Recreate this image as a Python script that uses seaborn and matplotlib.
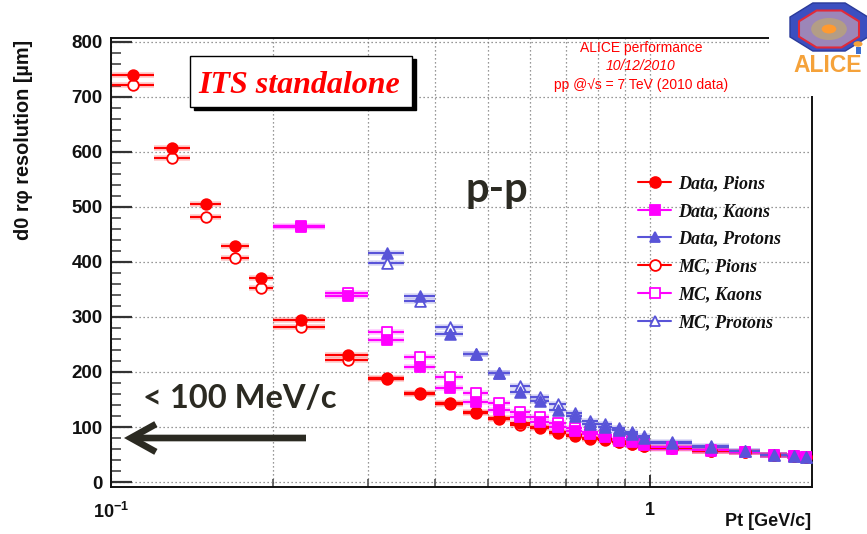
import numpy as np
import pandas as pd
import matplotlib
matplotlib.use("Agg")
import matplotlib.pyplot as plt
import seaborn as sns
from matplotlib.lines import Line2D
from matplotlib.patches import Rectangle, RegularPolygon, Circle
from matplotlib.ticker import FixedLocator, MultipleLocator, NullFormatter, LogLocator
from matplotlib.font_manager import FontProperties

# ---------------- data ----------------
pt_pions = [0.11, 0.13, 0.15, 0.17, 0.19, 0.225, 0.275, 0.325, 0.375, 0.425, 0.475,
            0.525, 0.575, 0.625, 0.675, 0.725, 0.775, 0.825, 0.875, 0.925, 0.975,
            1.1, 1.3, 1.5, 1.7, 1.85, 1.95]
ptw_pions = [0.01, 0.01, 0.01, 0.01, 0.01, 0.025, 0.025, 0.025, 0.025, 0.025, 0.025,
             0.025, 0.025, 0.025, 0.025, 0.025, 0.025, 0.025, 0.025, 0.025, 0.025,
             0.1, 0.1, 0.1, 0.1, 0.05, 0.05]
data_pions = [740, 607, 505, 429, 371, 295, 231, 189, 162, 144, 128, 116, 107, 100, 91,
              86, 80, 78, 73, 70, 66, 62, 56, 54, 49, 47, 45]
mc_pions = [722, 589, 482, 407, 353, 282, 222, 187, 160, 142, 126, 114, 104, 98, 90,
            84, 79, 76, 72, 69, 65, 62, 57, 54, 49, 47, 45]

pt_kaons = [0.225, 0.275, 0.325, 0.375, 0.425, 0.475, 0.525, 0.575, 0.625, 0.675, 0.725,
            0.775, 0.825, 0.875, 0.925, 0.975, 1.1, 1.3, 1.5, 1.7, 1.85, 1.95]
ptw_kaons = [0.025, 0.025, 0.025, 0.025, 0.025, 0.025, 0.025, 0.025, 0.025, 0.025, 0.025,
             0.025, 0.025, 0.025, 0.025, 0.025, 0.1, 0.1, 0.1, 0.1, 0.05, 0.05]
data_kaons = [465, 338, 258, 209, 171, 146, 131, 119, 109, 100, 93, 87, 82, 75, 72, 67,
              60, 57, 55, 50, 48, 46]
mc_kaons = [463, 344, 273, 228, 191, 162, 143, 128, 119, 107, 98, 91, 86, 78, 74, 69,
            63, 58, 55, 50, 48, 46]

pt_protons = [0.325, 0.375, 0.425, 0.475, 0.525, 0.575, 0.625, 0.675, 0.725, 0.775,
              0.825, 0.875, 0.925, 0.975, 1.1, 1.3, 1.5, 1.7, 1.85, 1.95]
ptw_protons = [0.025, 0.025, 0.025, 0.025, 0.025, 0.025, 0.025, 0.025, 0.025, 0.025,
               0.025, 0.025, 0.025, 0.025, 0.1, 0.1, 0.1, 0.1, 0.05, 0.05]
data_protons = [416, 338, 269, 233, 198, 164, 147, 131, 120, 106, 100, 95, 88, 80,
                71, 64, 57, 49, 48, 45]
mc_protons = [398, 329, 282, 232, 198, 174, 155, 142, 125, 111, 105, 98, 91, 84,
              72, 65, 57, 50, 48, 46]

series_names = ["Data, Pions", "Data, Kaons", "Data, Protons",
                "MC, Pions", "MC, Kaons", "MC, Protons"]
y_ticks = [0, 100, 200, 300, 400, 500, 600, 700, 800]
x_ticks = [0.1, 1]
x_ticklabels = [r"$\mathbf{10^{-1}}$", r"$\mathbf{1}$"]

RED = "#ff0000"
MAG = "#ff00ff"
BLUE = "#5954d8"
DARK = "#2b2a22"

# (name, pt, half width, values, colour, marker, filled, size, zorder)
series = [
    ("Data, Pions", pt_pions, ptw_pions, data_pions, RED, "o", True, 58, 4.0),
    ("Data, Kaons", pt_kaons, ptw_kaons, data_kaons, MAG, "s", True, 50, 4.1),
    ("Data, Protons", pt_protons, ptw_protons, data_protons, BLUE, "^", True, 60, 4.2),
    ("MC, Pions", pt_pions, ptw_pions, mc_pions, RED, "o", False, 58, 3.0),
    ("MC, Kaons", pt_kaons, ptw_kaons, mc_kaons, MAG, "s", False, 50, 3.1),
    ("MC, Protons", pt_protons, ptw_protons, mc_protons, BLUE, "^", False, 60, 3.2),
]

frames = []
for name, pt, ptw, val, *_ in series:
    frames.append(pd.DataFrame({"pt": pt, "ptw": ptw, "res": val, "series": name}))
df = pd.concat(frames, ignore_index=True)

# ---------------- figure ----------------
sns.set_theme(style="white")
plt.rcParams["font.family"] = ["Liberation Sans", "DejaVu Sans"]
plt.rcParams["mathtext.fontset"] = "custom"
plt.rcParams["mathtext.bf"] = "Liberation Sans:bold"
plt.rcParams["mathtext.rm"] = "Liberation Sans"

W, H = 867, 534
fig = plt.figure(figsize=(W / 100, H / 100), dpi=100)
fig.patch.set_facecolor("white")


def fx(x):
    return x / W


def fy(y):
    return 1 - y / H


ax_l, ax_r, ax_t, ax_b = 111, 812, 38, 487
ax = fig.add_axes([fx(ax_l), fy(ax_b), (ax_r - ax_l) / W, (ax_b - ax_t) / H])
ax.set_facecolor("white")

for name, pt, ptw, val, col, mk, filled, size, z in series:
    sub = df[df["series"] == name]
    ax.errorbar(sub["pt"], sub["res"], xerr=sub["ptw"], fmt="none", ecolor=col,
                elinewidth=4.0, alpha=0.22, capsize=0, zorder=2)
    ax.errorbar(sub["pt"], sub["res"], xerr=sub["ptw"], fmt="none", ecolor=col,
                elinewidth=1.5, capsize=0, zorder=2.5)
    kw = dict(facecolor=col if filled else "white", edgecolor=col, linewidth=1.3)
    sns.scatterplot(data=sub, x="pt", y="res", ax=ax, marker=mk, s=size,
                    color=col, legend=False, zorder=z, **kw)

ax.set_xscale("log")
ax.set_xlim(0.1, 2.0)
ax.set_ylim(-9, 807)

ax.xaxis.set_major_locator(FixedLocator(x_ticks))
ax.xaxis.set_minor_locator(LogLocator(base=10, subs=[0.2, 0.3, 0.4, 0.5, 0.6, 0.7, 0.8, 0.9]))
ax.xaxis.set_minor_formatter(NullFormatter())
ax.set_xticklabels(x_ticklabels)
ax.yaxis.set_major_locator(FixedLocator(y_ticks))
ax.yaxis.set_minor_locator(MultipleLocator(20))
ax.set_yticklabels([str(v) for v in y_ticks])

ax.grid(True, which="major", axis="y", color="#777777", linestyle=(0, (1, 2.2)), linewidth=0.9)
ax.grid(True, which="both", axis="x", color="#777777", linestyle=(0, (1, 2.2)), linewidth=0.9)

ax.tick_params(axis="y", which="major", direction="in", length=15, width=1.6, color="#333333",
               labelsize=13.5, pad=6, left=True, right=False)
ax.tick_params(axis="y", which="minor", direction="in", length=7.5, width=1.2, color="#444444",
               left=True, right=False)
ax.tick_params(axis="x", which="major", direction="in", length=9, width=1.4, color="#333333",
               labelsize=13, pad=11, bottom=True, top=False)
ax.tick_params(axis="x", which="minor", direction="in", length=6, width=1.1, color="#444444",
               bottom=True, top=False)
for lab in ax.get_yticklabels() + ax.get_xticklabels():
    lab.set_fontweight("bold")
    lab.set_color("#111111")

for sp in ax.spines.values():
    sp.set_visible(True)
    sp.set_color("#111111")
    sp.set_linewidth(1.4)

ax.set_xlabel("")
ax.set_ylabel("")

# axis titles
fig.text(fx(24), fy(40), "d0 r\u03c6 resolution [\u00b5m]", rotation=90, ha="center", va="top",
         fontsize=14.3, fontweight="bold", color="#111111")
fig.text(fx(811), fy(522), "Pt [GeV/c]", ha="right", va="center",
         fontsize=13, fontweight="bold", color="#111111")

# legend
handles = []
for name, pt, ptw, val, col, mk, filled, size, z in series:
    handles.append(Line2D([], [], color=col, lw=1.5, marker=mk, markersize=7.8,
                          markerfacecolor=col if filled else "white",
                          markeredgecolor=col, markeredgewidth=1.3))
leg = ax.legend(handles, series_names, loc="upper left",
                bbox_to_anchor=(fx(638), fy(175)), bbox_transform=fig.transFigure,
                frameon=False, borderpad=0, borderaxespad=0,
                prop=FontProperties(family="Liberation Serif", weight="bold", style="italic", size=13),
                handlelength=1.85, handletextpad=0.4, labelspacing=0.6)
for t in leg.get_texts():
    t.set_color("#111111")

# ITS standalone box
fig.patches.append(Rectangle((fx(194), fy(110)), 222 / W, 51 / H, transform=fig.transFigure,
                             facecolor="black", edgecolor="black", zorder=4))
fig.patches.append(Rectangle((fx(190), fy(107)), 222 / W, 51 / H, transform=fig.transFigure,
                             facecolor="white", edgecolor="black", linewidth=1.0, zorder=4.1))
fig.text(fx(299), fy(93), "ITS standalone", ha="center", va="baseline", color=RED,
         fontsize=23, family="Liberation Serif", style="italic", fontweight="bold", zorder=5)

# ALICE header
fig.text(fx(641), fy(48), "ALICE performance", ha="center", va="center", color=RED,
         fontsize=10, zorder=5)
fig.text(fx(641), fy(66), "10/12/2010", ha="center", va="center", color=RED,
         fontsize=10, style="italic", zorder=5)
fig.text(fx(641), fy(85), "pp @\u221as = 7 TeV (2010 data)", ha="center", va="center", color=RED,
         fontsize=10, family=["Liberation Sans", "DejaVu Sans"], zorder=5)

# annotations
fig.text(fx(497), fy(202), "p-p", ha="center", va="baseline", color=DARK,
         fontsize=30, family="Lato", fontweight="bold", zorder=5)
fig.text(fx(240), fy(408), "< 100 MeV/c", ha="center", va="baseline", color=DARK,
         fontsize=23.5, family="Lato", fontweight="bold", zorder=5)
ax.annotate("", xy=(fx(124), fy(438)), xytext=(fx(306), fy(438)),
            xycoords="figure fraction", textcoords="figure fraction",
            arrowprops=dict(arrowstyle="->,head_length=0.9,head_width=0.5", color=DARK,
                            lw=4.8, mutation_scale=20, shrinkA=0, shrinkB=0,
                            capstyle="butt", joinstyle="miter"), zorder=6)

# ALICE logo corner (masks the frame corner)
fig.patches.append(Rectangle((fx(769), fy(96)), 98 / W, 96 / H, transform=fig.transFigure,
                             facecolor="white", edgecolor="none", zorder=6))
fig.patches.append(RegularPolygon((fx(829), fy(27)), numVertices=8, radius=26 / H,
                                  orientation=np.pi / 8, transform=fig.transFigure,
                                  facecolor="#3b4fc0", edgecolor="#2a3a9a", linewidth=1.0, zorder=7))
fig.patches.append(RegularPolygon((fx(829), fy(29)), numVertices=8, radius=20 / H,
                                  orientation=np.pi / 8, transform=fig.transFigure,
                                  facecolor="#9c86b8", edgecolor="#e02a3a", linewidth=1.5, zorder=7.1))
fig.patches.append(Circle((fx(829), fy(29)), radius=11 / H, transform=fig.transFigure,
                          facecolor="#b9a37a", edgecolor="none", alpha=0.8, zorder=7.2))
fig.patches.append(Circle((fx(829), fy(29)), radius=4.5 / H, transform=fig.transFigure,
                          facecolor="#ff9a30", edgecolor="none", zorder=7.3))
fig.patches.append(Circle((fx(858), fy(44)), radius=2.8 / H, transform=fig.transFigure,
                          facecolor="#f5a23a", edgecolor="none", zorder=7.3))
fig.patches.append(Rectangle((fx(855.5), fy(54)), 5 / W, 7 / H, transform=fig.transFigure,
                             facecolor="#3d6fd0", edgecolor="none", zorder=7.3))
fig.text(fx(828), fy(65), "ALICE", ha="center", va="center", color="#f5a23a",
         fontsize=16.5, fontweight="bold", zorder=8)

fig.savefig("out.png", dpi=100, facecolor="white")
